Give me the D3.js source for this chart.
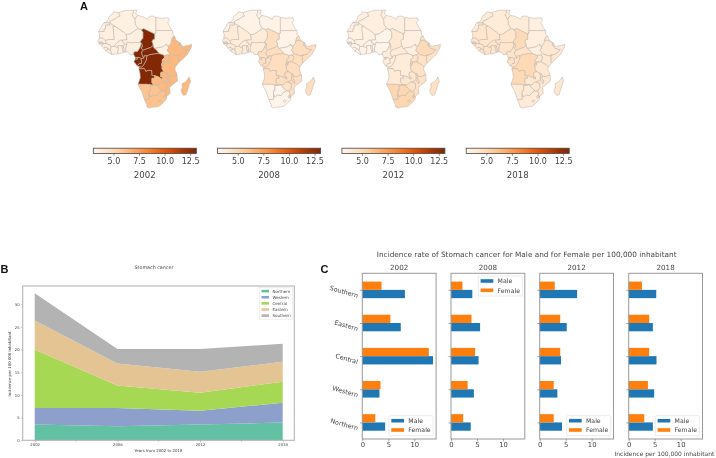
<!DOCTYPE html>
<html><head><meta charset="utf-8">
<script src="https://cdn.jsdelivr.net/npm/d3@7"></script>
<style>
html,body{margin:0;padding:0;background:#fff}
svg{display:block;filter:blur(0.4px)}
text{font-family:"DejaVu Sans",sans-serif;fill:#444}
.letter{font-family:"Liberation Sans",sans-serif;font-weight:bold;fill:#111;font-size:11px}
</style></head><body>
<svg id="c" width="716" height="458"></svg>
<script>
// ---------- data ----------
const years = ["2002","2008","2012","2018"];
const regions = ["Northern","Western","Central","Eastern","Southern"];
// stacked area: incidence per region
const areaNorthern = [3.5,3.1,3.5,3.9];
const areaWestern  = [3.6,4.0,3.0,4.4];
const areaCentral  = [12.9,5.0,4.0,4.6];
const areaEastern  = [6.4,4.8,4.6,4.4];
const areaSouthern = [6.0,3.2,5.0,4.0];
const areaColors = ["#62c0a3","#8da0cb","#a6d854","#e5c494","#b3b3b3"];
// bars, Northern..Southern
const male2002 = [4.4,3.3,13.6,7.4,8.2];
const female2002 = [2.5,3.5,12.8,5.4,3.7];
const male2008 = [3.8,4.4,5.3,5.6,4.1];
const female2008 = [2.35,3.2,4.65,3.95,2.2];
const male2012 = [4.3,3.4,4.1,5.2,7.2];
const female2012 = [2.7,2.7,3.95,3.95,2.9];
const male2018 = [4.65,4.9,5.35,4.65,5.3];
const female2018 = [3.0,3.7,3.95,3.95,2.55];
// choropleth values per region, Northern..Southern
const map2002 = [3.4,3.5,13.0,6.4,6.0];
const map2008 = [3.2,3.8,4.7,4.7,3.1];
const map2012 = [3.5,3.1,3.8,4.5,5.1];
const map2018 = [3.8,4.3,4.4,4.1,3.9];
// countries that depart from their region's colour: [name, year index, value]
const mapExceptions = [["Zambia",1,4.7],["Zimbabwe",1,4.4],["Chad",2,4.1],["Angola",2,3.9],["Zambia",2,4.2],["Ethiopia",2,4.9],["Kenya",2,4.4],
  ["Chad",3,4.9],["Congo DR",3,5.0],["Angola",3,5.0],["Mali",2,3.4],["Mauritania",2,3.4],["Sudan",3,3.5],["Egypt",3,3.5],["South Sudan",3,3.5],["Burkina Faso",2,3.5]];
const colorbarTicks = [5,7.5,10,12.5];
const colorDomain = [3.03,13.1];

const countries = [
["Morocco",0,[[-5.9,35.8],[-2.2,35.1],[-1.7,33.3],[-1.2,32.6],[-2.9,32.1],[-5,30.5],[-8.7,28.7],[-8.7,27.7],[-13.2,27.7],[-11.5,28.3],[-9.7,30.2],[-9.8,31.5],[-8.5,33.3],[-6.8,34.1]]],
["Western Sahara",0,[[-13.2,27.7],[-8.7,27.7],[-8.7,26],[-12,26],[-12,23.4],[-13,23],[-13,21.3],[-17,21.4],[-16.3,23],[-14.9,24.7],[-14.4,26.2]]],
["Algeria",0,[[-2.2,35.1],[-1,35.7],[3,36.9],[8.6,36.9],[8.2,34.6],[7.5,33.8],[8.2,32.5],[9.5,30.2],[9.8,29.4],[9.9,26.5],[11.9,23.5],[5.8,19.4],[3.2,19],[1.1,20.9],[-4.8,25],[-8.7,27.3],[-8.7,28.7],[-5,30.5],[-2.9,32.1],[-1.2,32.6],[-1.7,33.3]]],
["Tunisia",0,[[8.6,36.9],[11,37.1],[10.6,35.8],[10.1,34.3],[11.5,33.1],[10.3,31.7],[9.5,30.2],[8.2,32.5],[7.5,33.8],[8.2,34.6]]],
["Libya",0,[[11.5,33.1],[15.2,32.3],[19,30.3],[20,32.5],[23,32.6],[25,31.6],[25,20],[24,20],[24,19.5],[16,23.4],[14.2,22.6],[11.9,23.5],[9.9,26.5],[9.8,29.4],[9.5,30.2],[10.3,31.7]]],
["Egypt",0,[[25,31.6],[29,31],[32.2,31.3],[34.2,31.3],[34.9,29.5],[33.6,28],[35.5,24],[37,22],[25,22]]],
["Sudan",0,[[24,19.5],[24,20],[25,20],[25,22],[37,22],[37.4,19],[38.6,18],[37,17],[36.4,14.4],[36,12.7],[34.3,10.6],[33,10.7],[32.7,12],[30,10],[27,9.5],[24,8.9],[23.5,9],[22.9,11],[22.5,13],[22,14],[23,15.7],[24,15.7]]],
["South Sudan",0,[[24,8.9],[27,9.5],[30,10],[32.7,12],[33,10.7],[34.3,10.6],[34,8.5],[33,7.8],[35,5.2],[33.9,4.2],[31,3.7],[29.5,4.4],[27.4,5.1],[25.5,7.5]]],
["Mauritania",1,[[-17,21.4],[-13,21.3],[-13,23],[-12,23.4],[-12,26],[-8.7,26],[-8.7,27.3],[-4.8,25],[-6.5,25],[-5.5,15.5],[-10,15.4],[-12.2,14.7],[-14.5,16.6],[-16.5,16.2],[-16.2,19]]],
["Mali",1,[[-12.2,14.7],[-11.4,12.4],[-8.5,11.3],[-8,10.3],[-6.5,10.4],[-5.5,10.4],[-5.4,10.9],[-4.4,12.3],[-2,14.2],[-1,14.9],[0.3,14.9],[3.8,15.3],[3.2,19],[1.1,20.9],[-4.8,25],[-6.5,25],[-5.5,15.5],[-10,15.4]]],
["Senegal",1,[[-16.5,16.2],[-14.5,16.6],[-12.2,14.7],[-11.4,12.4],[-13.7,12.6],[-16.7,12.4],[-17.5,14.7]]],
["Gambia",1,[[-16.8,13.7],[-14,13.7],[-14,13.1],[-16.8,13.1]]],
["Guinea-Bissau",1,[[-16.7,12.4],[-13.7,12.6],[-13.7,11.7],[-15,11]]],
["Guinea",1,[[-15,11],[-13.7,11.7],[-13.7,12.6],[-11.4,12.4],[-8.5,11.3],[-8,10.3],[-8.2,8.5],[-8.5,7.6],[-9.5,8.5],[-10.3,8.4],[-10.7,9.3],[-12.5,9.9],[-13.3,9]]],
["Sierra Leone",1,[[-13.3,9],[-12.5,9.9],[-10.7,9.3],[-10.3,8.4],[-11.4,6.9]]],
["Liberia",1,[[-11.4,6.9],[-10.3,8.4],[-9.5,8.5],[-8.5,7.6],[-7.5,6],[-7.5,4.4]]],
["Cote d'Ivoire",1,[[-7.5,4.4],[-3.1,5.1],[-3.2,6.5],[-2.5,8],[-2.8,9.5],[-4,9.9],[-5.5,10.4],[-6.5,10.4],[-8,10.3],[-8.2,8.5],[-8.5,7.6],[-7.5,6]]],
["Burkina Faso",1,[[-2.8,9.5],[-2.8,11],[0,11],[1,10.8],[2.4,12],[2,12.7],[1,13],[0.3,14.9],[-1,14.9],[-2,14.2],[-4.4,12.3],[-5.4,10.9],[-5.5,10.4],[-4,9.9]]],
["Ghana",1,[[-3.1,5.1],[-2,4.8],[1.2,6.1],[0.5,8],[0,11],[-2.8,11],[-2.8,9.5],[-2.5,8],[-3.2,6.5]]],
["Togo",1,[[1.2,6.1],[1.7,6.2],[1.6,9],[1,10.8],[0,11],[0.5,8]]],
["Benin",1,[[1.7,6.2],[3,6.4],[2.8,9],[3.6,11.7],[2.4,12],[1,10.8],[1.6,9]]],
["Niger",1,[[14.2,22.6],[15.5,20.8],[15.5,16.5],[13.5,14],[14,13],[10,13.3],[7,13],[4,13.5],[3.6,11.7],[2.4,12],[2,12.7],[1,13],[0.3,14.9],[3.8,15.3],[3.2,19],[5.8,19.4],[11.9,23.5]]],
["Nigeria",1,[[3,6.4],[4.5,6.2],[6,4.3],[8.5,4.7],[9,6.5],[11.5,6.7],[13,9],[14,11.5],[14,13],[10,13.3],[7,13],[4,13.5],[3.6,11.7],[2.8,9]]],
["Chad",2,[[24,19.5],[24,15.7],[23,15.7],[22,14],[22.5,13],[22.9,11],[21,9.5],[18.9,8.9],[15.5,7.5],[13.9,9.5],[15,10],[14.5,12.5],[14,13],[13.5,14],[15.5,16.5],[15.5,20.8],[14.2,22.6],[16,23.4]]],
["Cameroon",2,[[8.5,4.7],[9.8,2.3],[11.3,2.3],[13.2,2.2],[14,1.4],[16,1.8],[15.1,4],[14.5,5],[14.5,6.2],[15.5,7.5],[13.9,9.5],[15,10],[14.5,12.5],[14,13],[14,11.5],[13,9],[11.5,6.7],[9,6.5]]],
["Central African Rep.",2,[[14.5,5],[15.1,4],[16,1.8],[16.5,3.5],[18.5,3.5],[20.5,4.4],[22.8,4.7],[25,5],[27.4,5.1],[25.5,7.5],[24,8.9],[23.5,9],[22.9,11],[21,9.5],[18.9,8.9],[15.5,7.5],[14.5,6.2]]],
["Eq. Guinea",2,[[9.8,1],[11.3,1],[11.3,2.3],[9.8,2.3]]],
["Gabon",2,[[8.8,-0.7],[9.8,1],[11.3,1],[11.3,2.3],[13.2,2.2],[14,1.4],[14.5,-1],[14.4,-2],[12.5,-2.3],[11.8,-3.3],[11.2,-4]]],
["Congo",2,[[11.2,-4],[12.8,-4.6],[14.5,-4.8],[16,-3.3],[17.8,0],[18.5,3.5],[16.5,3.5],[16,1.8],[14,1.4],[14.5,-1],[14.4,-2],[12.5,-2.3],[11.8,-3.3]]],
["Congo DR",2,[[12.4,-6],[13,-5.9],[16.5,-5.9],[17.6,-8],[19.3,-7.2],[21.8,-7.3],[22,-11],[24,-11],[25.3,-11.5],[27,-12],[29,-13.4],[29.8,-13.4],[29.8,-12],[28.4,-12],[28.4,-9.3],[28.7,-8.5],[30.8,-8.2],[29.4,-6],[29.4,-4.4],[29,-2.7],[29.6,-1.4],[29.6,0.6],[31.2,2.3],[31,3.7],[29.5,4.4],[27.4,5.1],[25,5],[22.8,4.7],[20.5,4.4],[18.5,3.5],[17.8,0],[16,-3.3],[14.5,-4.8],[12.8,-4.6]]],
["Angola",2,[[12.4,-6],[13,-5.9],[16.5,-5.9],[17.6,-8],[19.3,-7.2],[21.8,-7.3],[22,-11],[24,-11],[24,-13],[22,-13],[22,-16.2],[23.4,-17.6],[22,-17.9],[18.5,-17.4],[13.9,-17.4],[11.8,-17.3],[13.5,-12.5],[13.2,-9]]],
["Eritrea",3,[[38.6,18],[39.7,15],[43.1,12.7],[42.4,12.5],[40,14.5],[37.9,14.9],[36.4,14.4],[37,17]]],
["Djibouti",3,[[43.1,12.7],[43.3,11.5],[42.9,10.9],[41.8,11.1],[42.4,12.5]]],
["Ethiopia",3,[[36.4,14.4],[37.9,14.9],[40,14.5],[42.4,12.5],[41.8,11.1],[42.9,10.9],[44,9],[48,8],[44.9,5],[42,4],[39.5,3.5],[36,4.5],[35,5.2],[33,7.8],[34,8.5],[34.3,10.6],[36,12.7]]],
["Somalia",3,[[43.3,11.5],[45,10.4],[51.2,11.8],[50.8,9.5],[48,4.5],[45,1.5],[41.5,-1.7],[41,-1],[41,3.9],[42,4],[44.9,5],[48,8],[44,9],[42.9,10.9]]],
["Kenya",3,[[36,4.5],[39.5,3.5],[42,4],[41,3.9],[41,-1],[41.5,-1.7],[39.2,-4.7],[37.7,-3.1],[33.9,-1],[33.9,0.1],[35,1.9],[33.9,4.2],[35,5.2]]],
["Uganda",3,[[31,3.7],[33.9,4.2],[35,1.9],[33.9,0.1],[33.9,-1],[30.5,-1],[29.6,-1.4],[29.6,0.6],[31.2,2.3]]],
["Rwanda",3,[[30.5,-1],[30.9,-2.3],[30.5,-2.4],[29,-2.7],[29.6,-1.4]]],
["Burundi",3,[[30.5,-2.4],[30.4,-3.5],[29.4,-4.4],[29,-2.7]]],
["Tanzania",3,[[33.9,-1],[37.7,-3.1],[39.2,-4.7],[38.8,-6.5],[39.5,-8],[40.4,-10.4],[37.5,-11.7],[34.6,-11.5],[34,-9.5],[32.8,-9.3],[30.8,-8.2],[29.4,-6],[29.4,-4.4],[30.4,-3.5],[30.5,-2.4],[30.9,-2.3],[30.5,-1]]],
["Malawi",3,[[34,-9.5],[34.6,-11.5],[34.3,-12.3],[35,-14],[35.8,-15],[35.2,-17],[34.3,-15.5],[33.2,-14],[33.3,-10.8],[32.8,-9.3]]],
["Mozambique",3,[[34.6,-11.5],[37.5,-11.7],[40.4,-10.4],[40.7,-15],[36.8,-18],[34.8,-19.9],[35.5,-24],[32.8,-26],[32.8,-26.9],[32,-26.8],[32,-25.8],[32,-24.5],[31.3,-22.4],[32.9,-20],[32.9,-16.7],[30.4,-16],[30.4,-15.6],[33.2,-14],[34.3,-15.5],[35.2,-17],[35.8,-15],[35,-14],[34.3,-12.3]]],
["Zambia",3,[[30.8,-8.2],[32.8,-9.3],[33.3,-10.8],[33.2,-14],[30.4,-15.6],[29,-15.9],[27,-17.9],[25.3,-17.8],[23.4,-17.6],[22,-16.2],[22,-13],[24,-13],[24,-11],[25.3,-11.5],[27,-12],[29,-13.4],[29.8,-13.4],[29.8,-12],[28.4,-12],[28.4,-9.3],[28.7,-8.5]]],
["Zimbabwe",3,[[30.4,-15.6],[30.4,-16],[32.9,-16.7],[32.9,-20],[31.3,-22.4],[29.4,-22.2],[27,-20],[25.3,-17.8],[27,-17.9],[29,-15.9]]],
["Madagascar",3,[[49.3,-12],[50.4,-15.5],[49.5,-17],[47.1,-24.9],[45.3,-25.6],[43.7,-23.5],[43.3,-21.8],[44.4,-19.8],[44,-17],[46.3,-15.8],[48,-14]]],
["Namibia",4,[[11.8,-17.3],[13.9,-17.4],[18.5,-17.4],[22,-17.9],[23.4,-17.6],[25.3,-17.8],[23.4,-18.2],[21,-18.3],[21,-22],[20,-22],[20,-28.4],[17,-28.7],[16.5,-28.6],[14.5,-22.5],[13,-20]]],
["Botswana",4,[[21,-18.3],[23.4,-18.2],[25.3,-17.8],[27,-20],[29.4,-22.2],[27,-23.7],[25.5,-25.7],[23,-25.3],[20.8,-26.8],[20,-24.8],[20,-22],[21,-22]]],
["South Africa",4,[[16.5,-28.6],[17,-28.7],[20,-28.4],[20,-24.8],[20.8,-26.8],[23,-25.3],[25.5,-25.7],[27,-23.7],[29.4,-22.2],[31.3,-22.4],[32,-24.5],[32,-25.8],[31,-25.8],[30.8,-26.5],[31.2,-27.3],[32,-26.8],[32.8,-26.9],[32.4,-28.6],[30,-31.3],[27,-33.7],[22,-34.2],[20,-34.8],[18.4,-34],[18,-32]]],
["Swaziland",4,[[31,-25.8],[32,-25.8],[32,-26.8],[31.2,-27.3],[30.8,-26.5]]],
["Lesotho",4,[[27,-29.6],[28.5,-28.6],[29.4,-29.5],[28,-30.6]]]
];

// ---------- drawing ----------
const svg = d3.select("#c");
const letter = (t,x,y)=>svg.append("text").attr("class","letter").attr("x",x).attr("y",y).text(t);
letter("A",80,10); letter("B",0.5,273); letter("C",320.5,273);

// Panel A
const color = d3.scaleSequential(d3.interpolateOranges).domain(colorDomain);
const geo = {type:"FeatureCollection",features:countries.map(c=>({type:"Feature",
  properties:{name:c[0],region:c[1]},
  geometry:{type:"Polygon",coordinates:[c[2].concat([c[2][0]])]}}))};
const grad = svg.append("defs").append("linearGradient").attr("id","cb");
d3.range(0,1.001,0.05).forEach(t=>grad.append("stop").attr("offset",t).attr("stop-color",d3.interpolateOranges(t)));
const mapValues=[map2002,map2008,map2012,map2018];
const mapOrigins=[121.9,246.3,370.6,494.9];
years.forEach((yr,i)=>{
  const proj=d3.geoIdentity().reflectY(true).scale(1.364).translate([mapOrigins[i],60.6]);
  const path=d3.geoPath(proj);
  const val=d=>{const e=mapExceptions.find(m=>m[0]===d.properties.name&&m[1]===i);return e?e[2]:mapValues[i][d.properties.region];};
  svg.append("g").selectAll("path").data(geo.features).join("path")
    .attr("d",path).attr("fill",d=>color(val(d))).attr("stroke","#c2b9b0").attr("stroke-width",0.6).attr("stroke-linejoin","round");
  const left=93.3+i*124.3;
  const cx=d3.scaleLinear().domain(colorDomain).range([left,left+103]);
  const g=svg.append("g");
  g.append("rect").attr("x",left).attr("y",148.2).attr("width",103).attr("height",5.2).attr("fill","url(#cb)").attr("stroke","#444").attr("stroke-width",0.8);
  const ax=g.append("g").attr("transform","translate(0,153.4)").call(d3.axisBottom(cx).tickValues(colorbarTicks).tickFormat(d3.format(".1f")).tickSize(2.4).tickSizeOuter(0));
  ax.select(".domain").remove();
  ax.selectAll("line").attr("stroke","#444").attr("stroke-width",0.6);
  ax.selectAll("text").attr("y",5.2).attr("font-size",8).attr("font-family","DejaVu Sans").attr("fill","#444");
  g.append("text").attr("x",left+51.5).attr("y",178).attr("text-anchor","middle").attr("font-size",8.6).text(yr);
});

// Panel B
const bx=d3.scalePoint().domain(years).range([34.7,282.7]);
const by=d3.scaleLinear().domain([0,34]).range([440.3,286]);
const stackCols=[areaNorthern,areaWestern,areaCentral,areaEastern,areaSouthern];
const stackRows=years.map((y,i)=>{const o={year:y};regions.forEach((r,j)=>o[r]=stackCols[j][i]);return o;});
const stack=d3.stack().keys(regions)(stackRows);
const area=d3.area().x(d=>bx(d.data.year)).y0(d=>by(d[0])).y1(d=>by(d[1]));
svg.append("g").selectAll("path").data(stack).join("path").attr("d",area).attr("fill",(d,i)=>areaColors[i]);
svg.append("rect").attr("x",22.7).attr("y",286).attr("width",271.6).attr("height",154.3).attr("fill","none").attr("stroke","#b5b5b5").attr("stroke-width",1.1);
const bax=svg.append("g").attr("transform","translate(0,440.3)").call(d3.axisBottom(bx).tickSize(2).tickSizeOuter(0));
bax.select(".domain").remove();
bax.selectAll("text").attr("y",3.2).attr("font-size",3.8).attr("font-family","DejaVu Sans").attr("fill","#555");
bax.selectAll("line").attr("stroke","#888").attr("stroke-width",0.4);
const xMinor=d3.pairs(years).map(p=>(bx(p[0])+bx(p[1]))/2);
svg.append("g").selectAll("line").data(xMinor).join("line").attr("x1",d=>d).attr("x2",d=>d).attr("y1",440.3).attr("y2",442).attr("stroke","#888").attr("stroke-width",0.4);
const bay=svg.append("g").attr("transform","translate(22.7,0)").call(d3.axisLeft(by).tickValues([0,5,10,15,20,25,30]).tickSize(2).tickSizeOuter(0));
bay.select(".domain").remove();
bay.selectAll("text").attr("x",-3).attr("font-size",3.8).attr("font-family","DejaVu Sans").attr("fill","#555");
bay.selectAll("line").attr("stroke","#888").attr("stroke-width",0.4);
svg.append("text").attr("x",154).attr("y",269).attr("text-anchor","middle").attr("font-size",4.8).attr("fill","#555").text("Stomach cancer");
svg.append("text").attr("x",158.5).attr("y",452).attr("text-anchor","middle").attr("font-size",3.9).attr("fill","#555").text("Years from 2002 to 2018");
svg.append("text").attr("transform","translate(11,364) rotate(-90)").attr("text-anchor","middle").attr("font-size",3.9).attr("fill","#555").text("Incidence per 100 000 inhabitant");
svg.append("rect").attr("x",259.3).attr("y",287.3).attr("width",33.5).attr("height",32).attr("fill","#fff").attr("fill-opacity",.85).attr("stroke","#ddd").attr("stroke-width",.4);
regions.forEach((r,i)=>{const y=291+i*6.13;
  svg.append("rect").attr("x",261.5).attr("y",y-1.2).attr("width",7.5).attr("height",2.6).attr("fill",areaColors[i]);
  svg.append("text").attr("x",272.5).attr("y",y+1.5).attr("font-size",4).attr("fill","#555").text(r);
});

// Panel C
const maleSeries=[male2002,male2008,male2012,male2018];
const femaleSeries=[female2002,female2008,female2012,female2018];
const panelLeft=[362.3,451,539.7,628.7];
const legendLeft=[389,478.3,566.7,655.3];
const legendTop=[415.7,276,415.7,415.7];
const barY=d3.scaleLinear().domain([-0.5,4.5]).range([439,273.3]);
const barH=barY(0)-barY(0.25);
years.forEach((yr,i)=>{
  const L=panelLeft[i];
  const bw=d3.scaleLinear().domain([0,14.2]).range([L,L+73.8]);
  const g=svg.append("g");
  g.selectAll(".m").data(maleSeries[i]).join("rect").attr("class","m").attr("x",L).attr("y",(d,j)=>barY(j)).attr("width",d=>bw(d)-L).attr("height",barH).attr("fill","#1f77b4");
  g.selectAll(".f").data(femaleSeries[i]).join("rect").attr("class","f").attr("x",L).attr("y",(d,j)=>barY(j)-barH).attr("width",d=>bw(d)-L).attr("height",barH).attr("fill","#ff7f0e");
  g.append("rect").attr("x",L).attr("y",273.3).attr("width",73.8).attr("height",165.7).attr("fill","none").attr("stroke","#999").attr("stroke-width",1);
  const ax=g.append("g").attr("transform","translate(0,439)").call(d3.axisBottom(bw).tickValues([0,5,10]).tickFormat(d3.format("d")).tickSize(2.4).tickSizeOuter(0));
  ax.select(".domain").remove();
  ax.selectAll("line").attr("stroke","#555").attr("stroke-width",0.5);
  ax.selectAll("text").attr("y",3.6).attr("font-size",6.8).attr("font-family","DejaVu Sans").attr("fill","#444");
  const ay=g.append("g").attr("transform",`translate(${L},0)`).call(d3.axisLeft(barY).tickValues(d3.range(5)).tickFormat(j=>i===0?regions[j]:"").tickSize(2.4).tickSizeOuter(0));
  ay.select(".domain").remove();
  ay.selectAll("line").attr("stroke","#555").attr("stroke-width",0.5);
  if(i===0) ay.selectAll("text").attr("x",0).attr("dy",0).attr("font-size",6.4).attr("font-family","DejaVu Sans").attr("fill","#444").attr("text-anchor","end")
    .attr("transform",d=>`translate(-5,7.5) rotate(16)`);
  g.append("text").attr("x",L+36.9).attr("y",270).attr("text-anchor","middle").attr("font-size",7.2).text(yr);
  const lx=legendLeft[i],ly=legendTop[i];
  g.append("rect").attr("x",lx).attr("y",ly).attr("width",44).attr("height",20).attr("rx",1).attr("fill","#fff").attr("fill-opacity",.85).attr("stroke","#ddd").attr("stroke-width",.6);
  [["Male","#1f77b4"],["Female","#ff7f0e"]].forEach((e,k)=>{
    const y=ly+5+k*9.3;
    g.append("rect").attr("x",lx+2.3).attr("y",y-1.8).attr("width",12.7).attr("height",3.6).attr("fill",e[1]);
    g.append("text").attr("x",lx+19.3).attr("y",y+2.3).attr("font-size",6.2).text(e[0]);
  });
});
svg.append("text").attr("x",526.7).attr("y",257).attr("text-anchor","middle").attr("font-size",7.33).text("Incidence rate of Stomach cancer for Male and for Female per 100,000 inhabitant");
svg.append("text").attr("x",664.5).attr("y",455.5).attr("text-anchor","middle").attr("font-size",6).text("Incidence per 100,000 inhabitant");
</script></body></html>
